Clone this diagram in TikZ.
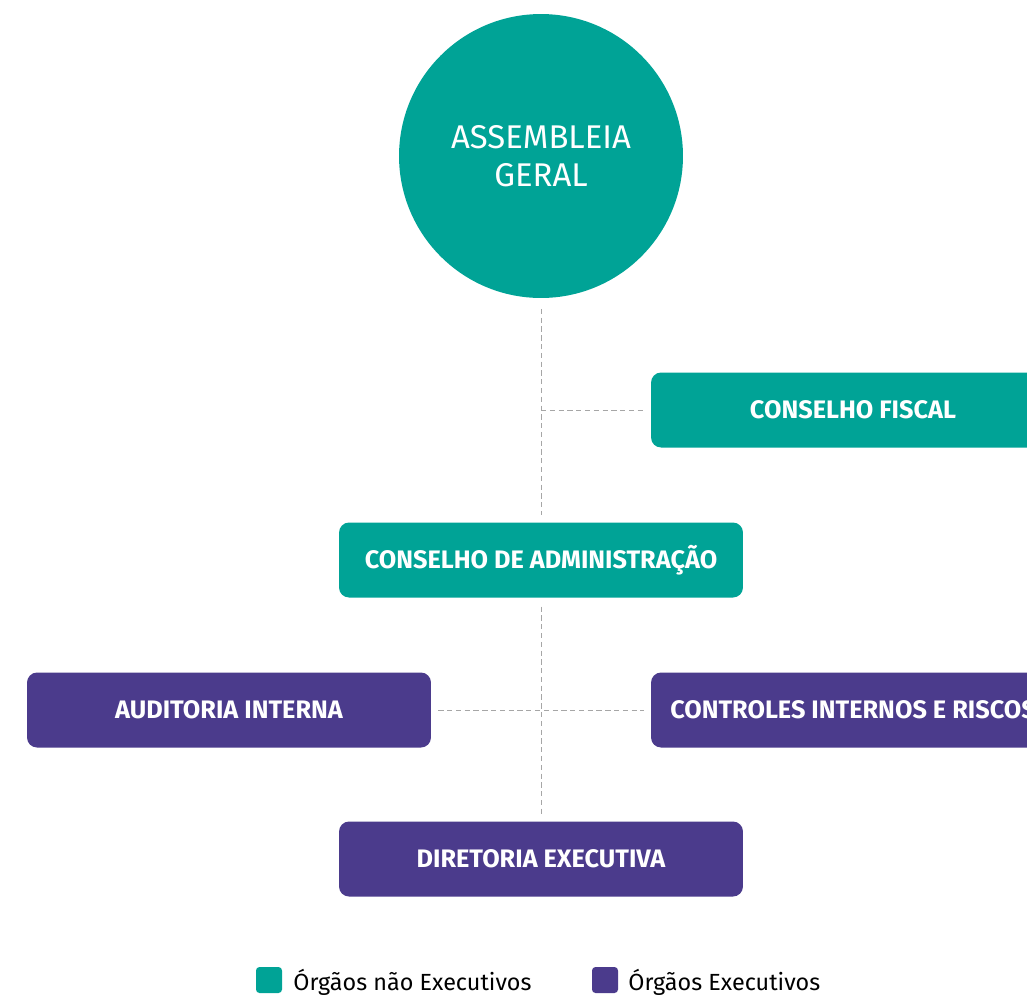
\documentclass[tikz,border=0pt]{standalone}
\usepackage{fontspec}
\setmainfont{Fira Sans}
\usepackage{tikz}
\usetikzlibrary{calc}
\usetikzlibrary{positioning}
\definecolor{tealorg}{HTML}{00A396}
\definecolor{roxo}{HTML}{4B3B8C}
\tikzset{orgbox/.style={draw=none,rounded corners=0.2cm,minimum width=8.08cm,minimum height=1.5cm,text=white,font=\fontsize{14.4}{17}\selectfont\bfseries,inner sep=0pt},
  naoexec/.style={orgbox,fill=tealorg},
  exec/.style={orgbox,fill=roxo},
  ligacao/.style={gray!70,dash pattern=on 3pt off 2pt,line width=0.5pt},
  legtxt/.style={anchor=west,font=\fontsize{13.3}{16}\selectfont,inner sep=0pt}}

\begin{document}
\begin{tikzpicture}[x=0.02cm,y=-0.02cm,line join=round]
\useasboundingbox (0,0) rectangle (1027,995);
\clip (0,0) rectangle (1027,995);
% --- topo: assembleia
\node[circle,fill=tealorg,minimum size=5.68cm,inner sep=0pt,text=white,align=center,font=\fontsize{18.7}{21.5}\selectfont] (ag) at (541,156) {ASSEMBLEIA\\GERAL};
% --- caixas
\node[naoexec] (cf) at (853,410) {CONSELHO FISCAL};
\node[naoexec] (ca) at (541,560) {CONSELHO DE ADMINISTRAÇÃO};
\node[exec] (ai) at (229,710) {AUDITORIA INTERNA};
\node[exec] (ci) at (853,710) {CONTROLES INTERNOS E RISCOS};
\node[exec] (de) at (541,859) {DIRETORIA EXECUTIVA};
% --- ligacoes tracejadas
\coordinate (j1) at (ag.south |- cf.west);
\draw[ligacao,shorten <=6pt,shorten >=4pt] (ag.south) -- (ca.north);
\draw[ligacao,shorten >=4pt] (j1) -- (cf.west);
\draw[ligacao,shorten <=5pt,shorten >=4pt] (ca.south) -- (de.north);
\draw[ligacao,shorten <=4pt,shorten >=4pt] (ai.east) -- (ci.west);
% --- legenda
\node[fill=tealorg,rounded corners=2pt,minimum size=0.52cm,inner sep=0pt] (lg1) at (269,980) {};
\node[legtxt] (lt1) at (293,982) {Órgãos não Executivos};
\node[fill=roxo,rounded corners=2pt,minimum size=0.52cm,inner sep=0pt] (lg2) at (605,980) {};
\node[legtxt] (lt2) at (628,982) {Órgãos Executivos};
\end{tikzpicture}
\end{document}
